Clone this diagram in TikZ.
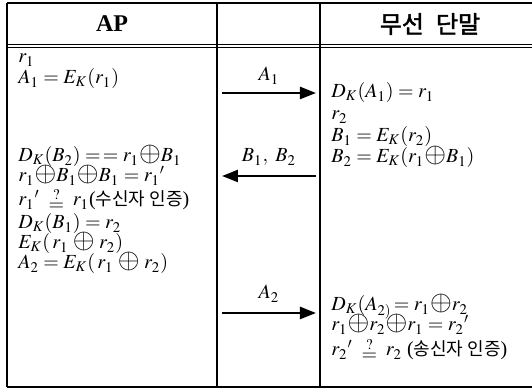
\documentclass[tikz,border=0pt]{standalone}
\usepackage{amsmath}
\usepackage{graphicx}
\usepackage{mathptmx}
\usepackage{fontspec}
\setmainfont{Liberation Serif}
\newfontfamily\krfont[AutoFakeBold=2]{Noto Sans CJK KR}
\usetikzlibrary{arrows.meta}

\newcommand{\qeq}{\mathrel{\raisebox{-2.5pt}{$\overset{?}{=}$}}}
\newcommand{\xo}{\mathord{\scalebox{1.4}{$\oplus$}}}

\begin{document}
\begin{tikzpicture}[
    x=0.5pt, y=-0.5pt,
    font=\fontsize{10}{12}\selectfont,
    >={Triangle[length=8pt, width=6pt]},
    rule/.style={line width=0.6pt},
    txt/.style={anchor=base west, inner sep=0pt},
    msg/.style={->, line width=1.2pt},
    lbl/.style={anchor=base, inner sep=0pt}
  ]
    \useasboundingbox (0,0) rectangle (532,389);
    % table frame
    \draw[rule] (7,3) -- (532,3);
    \draw[line width=0.5pt] (7,45) -- (532,45);
    \draw[line width=0.5pt] (7,48) -- (532,48);
    \draw[rule] (7,387) -- (532,387);
    \draw[line width=1pt] (7,3) -- (7,387);
    \draw[rule] (217,3) -- (217,387);
    \draw[rule] (320,3) -- (320,387);
    % headers
    \node[font=\fontsize{12}{14}\selectfont\bfseries] (hap) at (112,24) {AP};
    \node[font=\fontsize{12}{14}\selectfont\krfont\bfseries] (hsta) at (430,24) {무선\hspace{0.5em}단말};
    % AP side
    \foreach \n/\y/\t in {
        l1/63/{$r_1$},
        l2/84/{$A_1=E_K(r_1)$},
        l3/162/{$D_K(B_2)=\,=r_1\xo B_1$},
        l4/182/{$r_1\xo B_1\xo B_1={r_1}'$},
        l5/206/{${r_1}'\;\qeq\;r_1$({\krfont\fontsize{9}{11}\selectfont 수신자 인증})},
        l6/229/{$D_K(B_1)=r_2$},
        l7/249/{$E_K(\,r_1\;\xo\;r_2)$},
        l8/269/{$A_2=E_K(\,r_1\;\xo\;r_2)$}}
      \node[txt] (\n) at (18,\y) {\t};
    % terminal side
    \foreach \n/\y/\t in {
        r1/98/{$D_K(A_1)=r_1$},
        r2/120/{$r_2$},
        r3/142/{$B_1=E_K(r_2)$},
        r4/163/{$B_2=E_K(r_1\xo B_1)$},
        r5/311/{$D_K(A_{2)}\!=r_1\xo r_2$},
        r6/331/{$r_1\xo r_2\xo r_1={r_2}'$},
        r7/356/{${r_2}'\;\qeq\;r_2$ ({\krfont\fontsize{9}{11}\selectfont 송신자 인증})}}
      \node[txt] (\n) at (331,\y) {\t};
    % messages
    \coordinate (a1s) at (222,93);
    \coordinate (a1e) at (316,93);
    \coordinate (bs) at (316,176);
    \coordinate (be) at (222,176);
    \coordinate (a2s) at (222,313);
    \coordinate (a2e) at (316,313);
    \draw[msg] (a1s) -- (a1e);
    \draw[msg] (bs) -- (be);
    \draw[msg] (a2s) -- (a2e);
    \node[lbl] (ma1) at (269,81) {$A_1$};
    \node[lbl] (mb) at (269,162) {$B_1,\ B_2$};
    \node[lbl] (ma2) at (269,299) {$A_2$};
\end{tikzpicture}
\end{document}
